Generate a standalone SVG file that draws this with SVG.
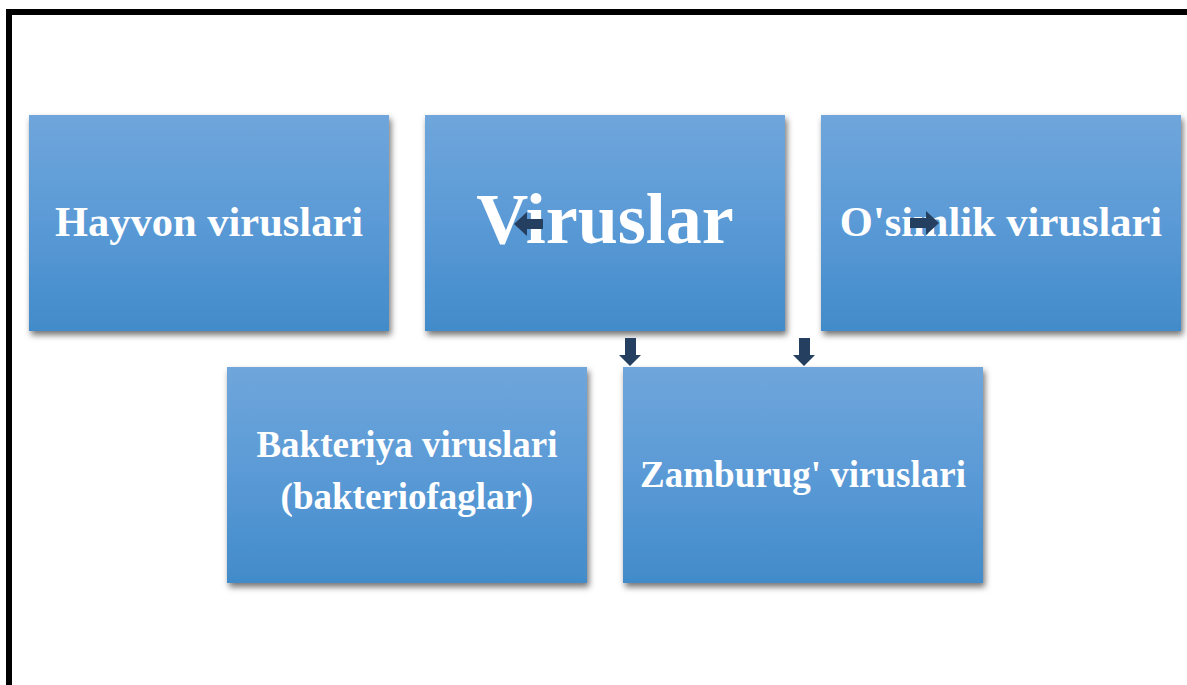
<svg xmlns="http://www.w3.org/2000/svg" width="1187" height="685" viewBox="0 0 1187 685">
<defs>
<linearGradient id="g" x1="0" y1="0" x2="0" y2="1">
<stop offset="0" stop-color="#6fa6db"/>
<stop offset="0.5" stop-color="#5a9ad6"/>
<stop offset="1" stop-color="#428bca"/>
</linearGradient>
<filter id="sh" x="-10%" y="-10%" width="125%" height="130%">
<feDropShadow dx="2" dy="4" stdDeviation="3" flood-color="#000" flood-opacity="0.55"/>
</filter>
</defs>
<style>
.box{fill:url(#g);filter:url(#sh)}
.t{font-family:"Liberation Serif","Times New Roman",serif;font-weight:bold;fill:#fff;text-anchor:middle}
.a{fill:#243f60}
</style>
<rect width="1187" height="685" fill="#fff"/>
<rect x="9" y="12" width="1190" height="690" fill="none" stroke="#000" stroke-width="6"/>
<g id="hayvon">
<rect class="box" x="29" y="115" width="360" height="216"/>
<text class="t" x="209" y="236" font-size="42.5">Hayvon viruslari</text>
</g>
<g id="viruslar">
<rect class="box" x="425" y="115" width="360" height="216"/>
<text class="t" x="605" y="243" font-size="72">Viruslar</text>
</g>
<g id="osimlik">
<rect class="box" x="821" y="115" width="360" height="216"/>
<text class="t" x="1001" y="236" font-size="42.5">O'simlik viruslari</text>
</g>
<g id="bakteriya">
<rect class="box" x="227" y="367" width="360" height="216"/>
<text class="t" x="407" y="457" font-size="37">Bakteriya viruslari</text>
<text class="t" x="407" y="509" font-size="37">(bakteriofaglar)</text>
</g>
<g id="zamburug">
<rect class="box" x="623" y="367" width="360" height="216"/>
<text class="t" x="803" y="487" font-size="37">Zamburug' viruslari</text>
</g>
<g id="connectors">
<polygon class="a" points="543,219 527,219 527,212 514,224 527,236 527,229 543,229"/>
<polygon class="a" points="910,218 926,218 926,211 939,223 926,235 926,228 910,228"/>
<polygon class="a" points="625,338 636,338 636,355 641,355 630,366 619,355 625,355"/>
<polygon class="a" points="799,338 810,338 810,355 815,355 804,366 793,355 799,355"/>
</g>
</svg>
